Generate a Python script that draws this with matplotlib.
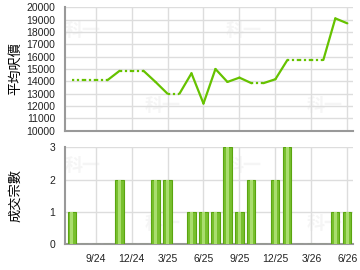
import matplotlib
matplotlib.use("Agg")
import matplotlib.pyplot as plt

plt.rcParams["font.family"] = ["Liberation Sans", "Noto Sans CJK TC", "DejaVu Sans"]

# months counted from 6/2024 (1 = 7/2024 ... 24 = 6/2026)
months = list(range(1, 25))
avg_price = [14100, 14100, 14100, 14100, 14850, 14850, 14850, 13950,
             13000, 13000, 14650, 12200, 15000, 13950, 14300, 13850,
             13850, 14170, 15730, 15730, 15730, 15730, 19100, 18700]
deals = [1, 0, 0, 0, 2, 0, 0, 2, 2, 0, 1, 1, 1, 3, 1, 2,
         0, 2, 3, 0, 0, 0, 1, 1]
tick_pos = [3, 6, 9, 12, 15, 18, 21, 24]
tick_labels = ["9/24", "12/24", "3/25", "6/25", "9/25", "12/25", "3/26", "6/26"]
price_ticks = list(range(10000, 20001, 1000))

line_green = "#66c200"
grid_c = "#dddddd"
spine_c = "#999999"

fig = plt.figure(figsize=(3.6, 2.7), dpi=100)
ax1 = fig.add_axes([0.1806, 0.516, 0.8008, 0.457])
ax2 = fig.add_axes([0.1806, 0.0963, 0.8008, 0.358])


def style(ax):
    ax.set_xlim(0.45, 24.5)
    ax.set_xticks(tick_pos)
    ax.grid(True, color=grid_c, lw=1.0)
    ax.set_axisbelow(True)
    for s in ["top", "right"]:
        ax.spines[s].set_visible(False)
    for s in ["left", "bottom"]:
        ax.spines[s].set_color(spine_c)
        ax.spines[s].set_linewidth(1.5)
    ax.tick_params(length=0, labelsize=7.5, colors="#222222", pad=7)
    # faint watermark
    for (x, y) in [(0.06, 0.8), (0.34, 0.2), (0.62, 0.8), (0.9, 0.2)]:
        ax.text(x, y, "科一", transform=ax.transAxes, color="#f5f5f5",
                fontsize=13, fontweight="bold", ha="center", va="center", zorder=0)


# average price line: dotted where a month has no deals
style(ax1)
ax1.set_ylim(10000, 20000)
ax1.set_yticks(price_ticks)
ax1.set_xticklabels([])
for i in range(len(months) - 1):
    ls = "-" if deals[i + 1] > 0 else (0, (1, 1.2))
    ax1.plot(months[i:i + 2], avg_price[i:i + 2], color=line_green, lw=1.6,
             ls=ls, solid_capstyle="round", dash_capstyle="butt", zorder=3)
ax1.set_ylabel("平均呎價", fontsize=9.5)

# number of deals
style(ax2)
ax2.set_ylim(0, 3)
ax2.set_yticks([0, 1, 2, 3])
ax2.set_xticklabels(tick_labels)
ax2.bar(months, deals, width=0.68, color="#78c02e", edgecolor="#5aa510",
        linewidth=0.8, zorder=3)
ax2.bar(months, deals, width=0.3, color="#a9dd6e", linewidth=0, zorder=4)
ax2.set_ylabel("成交宗數", fontsize=9.5)
ax1.yaxis.set_label_coords(-0.15, 0.5)
ax2.yaxis.set_label_coords(-0.15, 0.5)

fig.savefig("out.png", dpi=100)
